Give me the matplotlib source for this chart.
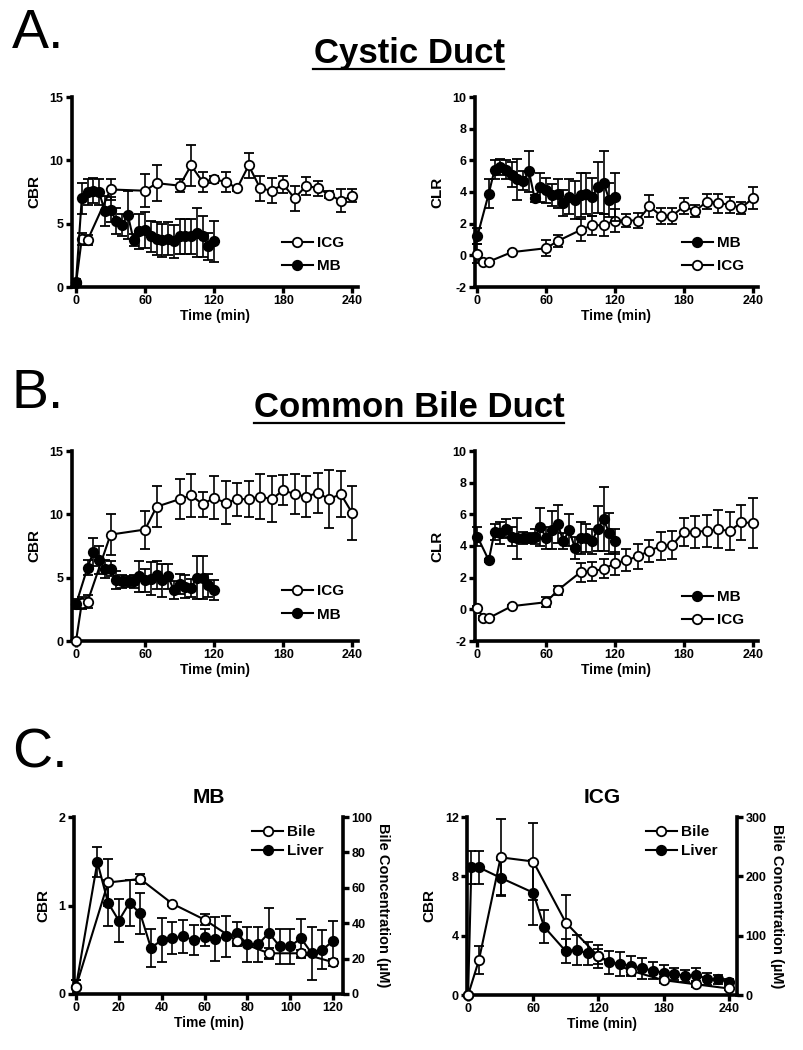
import numpy as np
import matplotlib
matplotlib.use("Agg")
import matplotlib.pyplot as plt
from matplotlib.lines import Line2D

plt.rcParams['font.family'] = ['Liberation Sans', 'DejaVu Sans']
plt.rcParams['font.weight'] = 'bold'
plt.rcParams['axes.unicode_minus'] = False

# ---- data: A. Cystic duct ----
a_mb_t = [0, 5, 10, 15, 20, 25, 30, 35, 40, 45, 50, 55, 60, 65, 70, 75, 80, 85, 90, 95, 100, 105, 110, 115, 120]
a_mb_cbr = [0.4, 7.0, 7.5, 7.6, 7.5, 6.0, 6.1, 5.2, 4.9, 5.7, 3.7, 4.4, 4.5, 4.0, 3.8, 3.7, 3.8, 3.6, 4.0, 4.0, 4.0, 4.3, 4.0, 3.2, 3.6]
a_mb_cbr_err = [0.2, 1.2, 1.0, 1.0, 1.0, 1.2, 1.0, 1.0, 0.9, 1.9, 0.5, 1.4, 1.4, 1.2, 1.3, 1.3, 1.3, 1.3, 1.4, 1.4, 1.4, 1.9, 1.6, 1.1, 1.6]
a_icg_t = [0, 5, 10, 30, 60, 70, 90, 100, 110, 120, 130, 140, 150, 160, 170, 180, 190, 200, 210, 220, 230, 240]
a_icg_cbr = [0.3, 3.8, 3.7, 7.7, 7.6, 8.2, 8.0, 9.6, 8.3, 8.5, 8.3, 7.8, 9.6, 7.8, 7.6, 8.1, 7.0, 8.0, 7.8, 7.3, 6.8, 7.2]
a_icg_cbr_err = [0.2, 0.5, 0.4, 0.8, 1.3, 1.4, 0.5, 1.6, 0.8, 0.3, 0.8, 0.2, 1.0, 1.0, 1.0, 0.7, 1.0, 0.7, 0.6, 0.3, 0.9, 0.5]

a_mb_clr_t = [0, 10, 15, 20, 25, 30, 35, 40, 45, 50, 55, 60, 65, 70, 75, 80, 85, 90, 95, 100, 105, 110, 115, 120]
a_mb_clr = [1.2, 3.9, 5.4, 5.6, 5.4, 5.1, 4.8, 4.7, 5.3, 3.6, 4.3, 4.1, 3.8, 3.9, 3.3, 3.7, 3.5, 3.8, 3.9, 3.7, 4.3, 4.6, 3.5, 3.7]
a_mb_clr_err = [0.5, 0.9, 0.6, 0.5, 0.6, 0.8, 1.3, 0.6, 1.3, 0.2, 0.9, 0.8, 0.7, 0.9, 0.8, 1.1, 1.2, 1.4, 1.3, 1.2, 1.6, 2.0, 1.1, 1.5]
a_icg_clr = [0.1, -0.4, -0.4, 0.2, 0.45, 0.9, 1.6, 1.9, 1.9, 2.2, 2.2, 2.2, 3.1, 2.5, 2.5, 3.1, 2.8, 3.4, 3.3, 3.2, 3.0, 3.6]
a_icg_clr_err = [0.6, 0.1, 0.1, 0.1, 0.5, 0.4, 0.7, 0.6, 0.7, 0.7, 0.4, 0.5, 0.7, 0.5, 0.5, 0.5, 0.4, 0.5, 0.6, 0.5, 0.4, 0.7]

# ---- data: B. Common bile duct ----
b_mb_t = [0, 10, 15, 20, 25, 30, 35, 40, 45, 50, 55, 60, 65, 70, 75, 80, 85, 90, 95, 100, 105, 110, 115, 120]
b_mb_cbr = [2.9, 5.8, 7.0, 6.4, 5.7, 5.7, 4.8, 4.7, 4.7, 4.7, 5.1, 4.8, 4.9, 5.2, 4.8, 5.1, 4.0, 4.5, 4.3, 4.2, 5.0, 5.0, 4.4, 4.0]
b_mb_cbr_err = [0.4, 0.6, 1.1, 1.1, 0.7, 0.6, 0.7, 0.5, 0.4, 0.5, 1.2, 0.9, 1.3, 1.1, 1.3, 1.0, 0.7, 0.8, 0.9, 0.7, 1.7, 1.7, 0.9, 0.8]
b_icg_t = [0, 5, 10, 30, 60, 70, 90, 100, 110, 120, 130, 140, 150, 160, 170, 180, 190, 200, 210, 220, 230, 240]
b_icg_cbr = [0.0, 3.0, 3.1, 8.4, 8.8, 10.6, 11.2, 11.5, 10.8, 11.3, 10.9, 11.2, 11.2, 11.4, 11.2, 11.9, 11.6, 11.4, 11.7, 11.2, 11.6, 10.1]
b_icg_cbr_err = [0.1, 0.5, 0.5, 1.6, 1.5, 1.6, 1.6, 1.7, 1.0, 1.7, 1.7, 1.3, 1.4, 1.8, 1.8, 1.2, 1.6, 1.6, 1.6, 2.3, 1.8, 2.1]

b_mb_clr = [4.6, 3.1, 4.9, 4.8, 5.1, 4.6, 4.5, 4.5, 4.5, 4.6, 5.2, 4.5, 5.0, 5.4, 4.3, 5.0, 3.9, 4.5, 4.5, 4.3, 5.1, 5.7, 4.8, 4.3]
b_mb_clr_err = [0.6, 0.1, 0.5, 0.7, 0.6, 0.6, 1.3, 0.4, 0.3, 0.5, 1.2, 0.7, 1.2, 1.2, 0.5, 1.0, 0.7, 1.0, 0.9, 0.8, 1.4, 2.0, 1.3, 0.8]
b_icg_clr = [0.1, -0.55, -0.55, 0.2, 0.45, 1.2, 2.35, 2.4, 2.55, 2.9, 3.1, 3.35, 3.7, 4.0, 4.05, 4.9, 4.9, 4.95, 5.05, 4.95, 5.5, 5.45]
b_icg_clr_err = [0.1, 0.1, 0.1, 0.1, 0.3, 0.3, 0.6, 0.6, 0.6, 0.7, 0.7, 0.8, 0.7, 0.9, 0.9, 0.9, 1.0, 1.0, 1.2, 1.2, 1.1, 1.6]

# ---- data: C. liver CBR and bile concentration ----
c_mb_liver_t = [0, 10, 15, 20, 25, 30, 35, 40, 45, 50, 55, 60, 65, 70, 75, 80, 85, 90, 95, 100, 105, 110, 115, 120]
c_mb_liver = [0.08, 1.49, 1.03, 0.83, 1.03, 0.91, 0.52, 0.61, 0.63, 0.65, 0.61, 0.64, 0.62, 0.65, 0.69, 0.56, 0.56, 0.69, 0.54, 0.54, 0.63, 0.46, 0.50, 0.60]
c_mb_liver_err = [0.08, 0.17, 0.26, 0.24, 0.26, 0.23, 0.22, 0.25, 0.18, 0.19, 0.17, 0.10, 0.25, 0.23, 0.12, 0.20, 0.20, 0.28, 0.20, 0.20, 0.22, 0.30, 0.22, 0.22]
c_mb_bile_t = [0, 15, 30, 45, 60, 75, 90, 105, 120]
c_mb_bile = [4, 63, 65, 51, 42, 30, 23, 23, 18]
c_mb_bile_err = [4, 13, 3, 1, 3, 3, 3, 2, 2]

c_icg_liver_t = [0, 3, 10, 30, 60, 70, 90, 100, 110, 120, 130, 140, 150, 160, 170, 180, 190, 200, 210, 220, 230, 240]
c_icg_liver = [0.0, 8.6, 8.6, 7.9, 6.9, 4.6, 2.95, 3.05, 2.8, 2.6, 2.2, 2.1, 1.95, 1.8, 1.65, 1.5, 1.4, 1.3, 1.35, 1.1, 1.05, 0.9]
c_icg_liver_err = [0.0, 1.1, 1.1, 1.2, 2.2, 1.1, 0.8, 1.0, 0.8, 0.8, 0.8, 0.8, 0.7, 0.7, 0.6, 0.5, 0.4, 0.4, 0.5, 0.4, 0.3, 0.2]
c_icg_bile_t = [0, 10, 30, 60, 90, 120, 150, 180, 210, 240]
c_icg_bile = [0, 59, 232, 225, 122, 65, 41, 25, 18, 11]
c_icg_bile_err = [0, 23, 64, 65, 46, 13, 8, 5, 5, 3]

W, H = 804, 1050
fig = plt.figure(figsize=(W / 100, H / 100), dpi=100)


def box(x0, y0, x1, y1):
    # pixel box -> figure fraction rect
    return [x0 / W, 1 - y1 / H, (x1 - x0) / W, (y1 - y0) / H]


def style(ax, ylabel, ylim, yticks, xlim, xticks, time_label=True):
    ax.set_xlim(*xlim)
    ax.set_ylim(*ylim)
    ax.set_xticks(xticks)
    ax.set_yticks(yticks)
    for s in ['top', 'right']:
        ax.spines[s].set_visible(False)
    for s in ['left', 'bottom']:
        ax.spines[s].set_linewidth(2.6)
    ax.tick_params(width=2.4, length=4, labelsize=9, pad=2)
    for lab in ax.get_xticklabels() + ax.get_yticklabels():
        lab.set_fontweight('bold')
    ax.set_ylabel(ylabel, fontsize=11, fontweight='bold', labelpad=6)
    if time_label:
        ax.set_xlabel('Time (min)', fontsize=10, fontweight='bold', labelpad=1)


def series(ax, t, y, err, filled, z=3):
    ax.errorbar(t, y, yerr=err, color='black', lw=1.5, elinewidth=1.2,
                capsize=3.5, capthick=1.2, marker='o', ms=6.8,
                mfc='black' if filled else 'white', mec='black', mew=1.3,
                zorder=z, clip_on=False)


def key(filled):
    return Line2D([], [], color='black', lw=1.5, marker='o', ms=6.8,
                  mfc='black' if filled else 'white', mec='black', mew=1.3)


def legend(ax, labels, fills, loc, anchor, spacing=0.6):
    ax.legend([key(f) for f in fills], labels, loc=loc, bbox_to_anchor=anchor,
              frameon=False, prop={'weight': 'bold', 'size': 11},
              handlelength=2.0, handletextpad=0.3, labelspacing=spacing)


xl_ab = (-3.5, 245)
xt_ab = [0, 60, 120, 180, 240]

# A left
ax = fig.add_axes(box(72, 97, 358, 287))
series(ax, a_icg_t, a_icg_cbr, a_icg_cbr_err, False)
series(ax, a_mb_t, a_mb_cbr, a_mb_cbr_err, True, 4)
style(ax, 'CBR', (0, 15), [0, 5, 10, 15], xl_ab, xt_ab)
legend(ax, ['ICG', 'MB'], [False, True], 'lower right', (1.0, 0.0))

# A right
ax = fig.add_axes(box(475, 97, 758, 287))
series(ax, a_mb_clr_t, a_mb_clr, a_mb_clr_err, True, 4)
series(ax, a_icg_t, a_icg_clr, a_icg_clr_err, False)
style(ax, 'CLR', (-2, 10), [-2, 0, 2, 4, 6, 8, 10], (-2, 244.6), xt_ab)
legend(ax, ['MB', 'ICG'], [True, False], 'lower right', (1.0, 0.0))

# B left
ax = fig.add_axes(box(72, 451, 358, 641))
series(ax, b_icg_t, b_icg_cbr, b_icg_cbr_err, False)
series(ax, b_mb_t, b_mb_cbr, b_mb_cbr_err, True, 4)
style(ax, 'CBR', (0, 15), [0, 5, 10, 15], xl_ab, xt_ab)
legend(ax, ['ICG', 'MB'], [False, True], 'lower right', (1.0, 0.03))

# B right
ax = fig.add_axes(box(475, 451, 758, 641))
series(ax, b_mb_t, b_mb_clr, b_mb_clr_err, True, 4)
series(ax, b_icg_t, b_icg_clr, b_icg_clr_err, False)
style(ax, 'CLR', (-2, 10), [-2, 0, 2, 4, 6, 8, 10], (-2, 244.6), xt_ab)
legend(ax, ['MB', 'ICG'], [True, False], 'lower right', (1.0, 0.0))


def twin_panel(rect, title, lt, ly, le, bt, by, be, ylim, yt, y2lim, y2t, xlim, xt):
    ax = fig.add_axes(rect)
    series(ax, lt, ly, le, True, 4)
    style(ax, 'CBR', ylim, yt, xlim, xt)
    ax.set_title(title, fontsize=15, fontweight='bold', pad=10)
    ax2 = ax.twinx()
    series(ax2, bt, by, be, False)
    ax2.set_ylim(*y2lim)
    ax2.set_yticks(y2t)
    for s in ['top', 'left', 'bottom']:
        ax2.spines[s].set_visible(False)
    ax2.spines['right'].set_linewidth(2.6)
    ax2.tick_params(width=2.4, length=4, labelsize=9, pad=2)
    for lab in ax2.get_yticklabels():
        lab.set_fontweight('bold')
    ax2.set_ylabel('Bile Concentration (\u00b5M)', rotation=270, fontsize=10.5,
                   fontweight='bold', labelpad=13)
    legend(ax2, ['Bile', 'Liver'], [False, True], 'upper right', (0.98, 1.03), 0.3)


twin_panel(box(74, 817, 343, 994), 'MB', c_mb_liver_t, c_mb_liver, c_mb_liver_err,
           c_mb_bile_t, c_mb_bile, c_mb_bile_err, (0, 2), [0, 1, 2],
           (0, 100), [0, 20, 40, 60, 80, 100], (-0.9, 124.6), [0, 20, 40, 60, 80, 100, 120])
twin_panel(box(467, 817, 737, 995), 'ICG', c_icg_liver_t, c_icg_liver, c_icg_liver_err,
           c_icg_bile_t, c_icg_bile, c_icg_bile_err, (0, 12), [0, 4, 8, 12],
           (0, 300), [0, 100, 200, 300], (-1, 247.7), xt_ab)

# panel letters and section headers
for letter, ytop in [('A.', 8), ('B.', 368), ('C.', 727)]:
    fig.text(12 / W, 1 - ytop / H, letter, fontsize=40, fontweight='normal',
             ha='left', va='top')

renderer = fig.canvas.get_renderer()
for head, ybase in [('Cystic Duct', 63), ('Common Bile Duct', 417)]:
    t = fig.text(409 / W, 1 - ybase / H, head, fontsize=25, fontweight='bold',
                 ha='center', va='baseline')
    bb = t.get_window_extent(renderer)
    y_ul = 1 - (ybase + 6) / H
    fig.add_artist(Line2D([bb.x0 / W, bb.x1 / W], [y_ul, y_ul], color='black', lw=1.6))

fig.savefig('out.png', dpi=100)
